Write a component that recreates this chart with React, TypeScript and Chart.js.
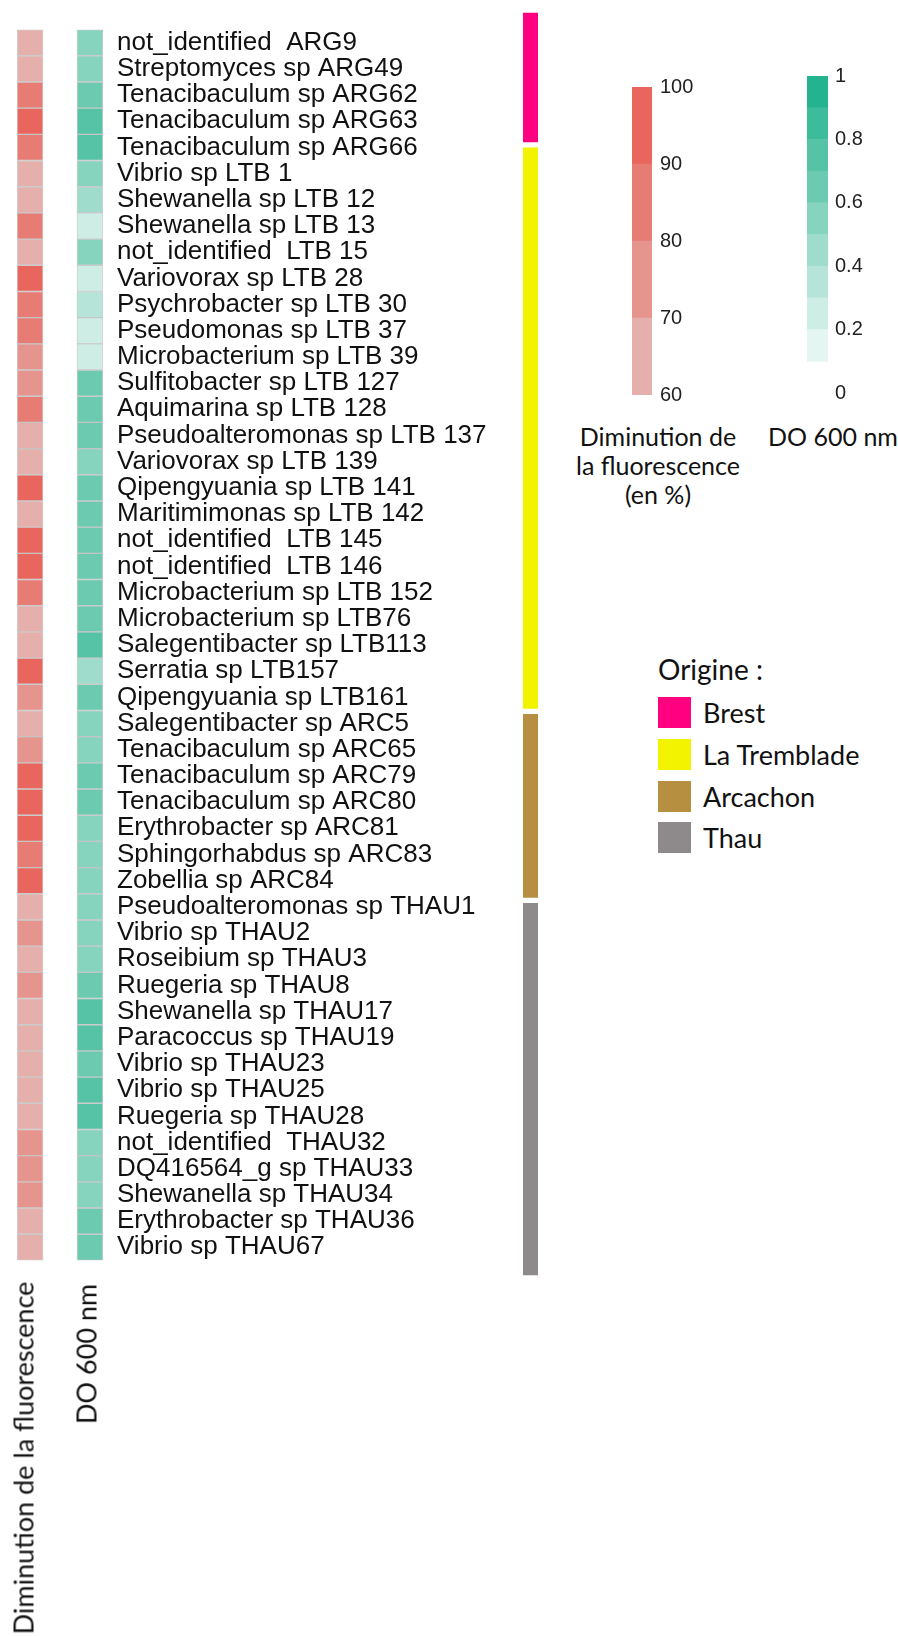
import React, { useEffect, useRef } from "react";
import { Chart, registerables } from "chart.js";

Chart.register(...registerables);

// ---------- data ----------
const species = [
  "not_identified  ARG9",
  "Streptomyces sp ARG49",
  "Tenacibaculum sp ARG62",
  "Tenacibaculum sp ARG63",
  "Tenacibaculum sp ARG66",
  "Vibrio sp LTB 1",
  "Shewanella sp LTB 12",
  "Shewanella sp LTB 13",
  "not_identified  LTB 15",
  "Variovorax sp LTB 28",
  "Psychrobacter sp LTB 30",
  "Pseudomonas sp LTB 37",
  "Microbacterium sp LTB 39",
  "Sulfitobacter sp LTB 127",
  "Aquimarina sp LTB 128",
  "Pseudoalteromonas sp LTB 137",
  "Variovorax sp LTB 139",
  "Qipengyuania sp LTB 141",
  "Maritimimonas sp LTB 142",
  "not_identified  LTB 145",
  "not_identified  LTB 146",
  "Microbacterium sp LTB 152",
  "Microbacterium sp LTB76",
  "Salegentibacter sp LTB113",
  "Serratia sp LTB157",
  "Qipengyuania sp LTB161",
  "Salegentibacter sp ARC5",
  "Tenacibaculum sp ARC65",
  "Tenacibaculum sp ARC79",
  "Tenacibaculum sp ARC80",
  "Erythrobacter sp ARC81",
  "Sphingorhabdus sp ARC83",
  "Zobellia sp ARC84",
  "Pseudoalteromonas sp THAU1",
  "Vibrio sp THAU2",
  "Roseibium sp THAU3",
  "Ruegeria sp THAU8",
  "Shewanella sp THAU17",
  "Paracoccus sp THAU19",
  "Vibrio sp THAU23",
  "Vibrio sp THAU25",
  "Ruegeria sp THAU28",
  "not_identified  THAU32",
  "DQ416564_g sp THAU33",
  "Shewanella sp THAU34",
  "Erythrobacter sp THAU36",
  "Vibrio sp THAU67",
];

const origins = [
  "Brest", "Brest", "Brest", "Brest", "Brest",
  "La Tremblade", "La Tremblade", "La Tremblade", "La Tremblade", "La Tremblade",
  "La Tremblade", "La Tremblade", "La Tremblade", "La Tremblade", "La Tremblade",
  "La Tremblade", "La Tremblade", "La Tremblade", "La Tremblade", "La Tremblade",
  "La Tremblade", "La Tremblade", "La Tremblade", "La Tremblade", "La Tremblade",
  "La Tremblade",
  "Arcachon", "Arcachon", "Arcachon", "Arcachon", "Arcachon", "Arcachon", "Arcachon",
  "Thau", "Thau", "Thau", "Thau", "Thau", "Thau", "Thau",
  "Thau", "Thau", "Thau", "Thau", "Thau", "Thau", "Thau",
];

// Diminution de la fluorescence (%)
const fluorescence = [
  65, 65, 85, 95, 85,
  65, 65, 85, 65, 95, 85, 85, 75, 75, 85, 65, 65, 95, 65, 95, 95, 85, 65, 65, 95, 75,
  65, 75, 95, 95, 95, 85, 95,
  65, 75, 65, 75, 65, 65, 65, 65, 65, 75, 75, 75, 65, 65,
];

// DO 600 nm
const od600 = [
  0.55, 0.55, 0.65, 0.75, 0.75,
  0.55, 0.45, 0.25, 0.55, 0.25, 0.35, 0.25, 0.25, 0.65, 0.65, 0.65, 0.55, 0.65, 0.65, 0.65, 0.65, 0.65, 0.65, 0.75, 0.45, 0.65,
  0.55, 0.55, 0.65, 0.65, 0.55, 0.55, 0.55,
  0.55, 0.55, 0.55, 0.65, 0.75, 0.75, 0.65, 0.75, 0.75, 0.55, 0.55, 0.55, 0.65, 0.65,
];

const originGroups = ["Brest", "La Tremblade", "Arcachon", "Thau"];
const originColors = ["#FE0080", "#F3F300", "#B68F40", "#8E8A8B"];

const fluoBreaks = [60, 70, 80, 90, 100];
const fluoColors = ["#E5B0AC", "#E6948E", "#E67C74", "#E8665D"];
const fluoTicks = [60, 70, 80, 90, 100];

const odBreaks = [0.1, 0.2, 0.3, 0.4, 0.5, 0.6, 0.7, 0.8, 0.9, 1.0];
const odColors = [
  "#E5F5F1", "#CEEDE5", "#B6E4D8", "#9FDCCB", "#86D3BE",
  "#6CCAB1", "#56C3A6", "#3CBC9B", "#23B38F",
];
const odTicks = [0, 0.2, 0.4, 0.6, 0.8, 1];

// ---------- helpers ----------
function binColor(v: number, breaks: number[], colors: string[]) {
  for (let i = 0; i < colors.length; i++) {
    if (v >= breaks[i] && v < breaks[i + 1]) return colors[i];
  }
  return v < breaks[0] ? colors[0] : colors[colors.length - 1];
}

const ARIAL = "'Liberation Sans', Arial, sans-serif";
const SOFT = "Lato, 'Open Sans', sans-serif";

function useChart(build: (c: HTMLCanvasElement) => Chart) {
  const ref = useRef<HTMLCanvasElement | null>(null);
  useEffect(() => {
    if (!ref.current) return;
    const ch = build(ref.current);
    return () => ch.destroy();
  }, []);
  return ref;
}

// ---------- charts ----------
function HeatmapChart() {
  const W = 523, H = 1290;
  const ref = useChart((c) =>
    new Chart(c, {
      type: "bar",
      data: {
        labels: species,
        datasets: [
          {
            label: "Diminution de la fluorescence",
            data: fluorescence.map(() => [0, 1]) as any,
            backgroundColor: fluorescence.map((v) => binColor(v, fluoBreaks, fluoColors)),
          },
          {
            label: "DO 600 nm",
            data: od600.map(() => [2.3, 3.3]) as any,
            backgroundColor: od600.map((v) => binColor(v, odBreaks, odColors)),
          },
        ],
      },
      options: {
        responsive: false,
        animation: false,
        indexAxis: "y",
        layout: { padding: { left: 17, top: 17, bottom: H - 1268, right: 0 } },
        plugins: { legend: { display: false }, tooltip: { enabled: false } },
        datasets: {
          bar: {
            grouped: false,
            barPercentage: 1,
            categoryPercentage: 1,
            borderSkipped: false,
            borderWidth: 1,
            borderColor: "rgba(170,170,170,0.55)",
          },
        } as any,
        scales: {
          x: { type: "linear", min: 0, max: 3.3, display: false },
          y: {
            type: "category",
            position: "right",
            grid: { display: false, drawTicks: false },
            border: { display: false },
            ticks: {
              autoSkip: false,
              padding: 14,
              color: "#111",
              font: { family: ARIAL, size: 26 },
            },
            afterFit: (s: any) => {
              s.width = 420;
            },
          },
        },
      },
    } as any)
  );
  return (
    <canvas
      ref={ref}
      width={W}
      height={H}
      style={{ position: "absolute", left: 0, top: 0 }}
    />
  );
}

function OriginBar() {
  const W = 15, H = 1290;
  const ref = useChart((c) =>
    new Chart(c, {
      type: "bar",
      data: {
        labels: ["Origine"],
        datasets: originGroups.map((g, i) => ({
          label: g,
          data: [origins.filter((o) => o === g).length],
          backgroundColor: originColors[i],
          borderColor: "#ffffff",
          borderWidth: { top: 3, bottom: 3, left: 0, right: 0 },
          borderSkipped: false,
          barPercentage: 1,
          categoryPercentage: 1,
        })),
      },
      options: {
        responsive: false,
        animation: false,
        layout: { padding: { left: 0, right: 0, top: 10, bottom: 12 } },
        plugins: { legend: { display: false }, tooltip: { enabled: false } },
        scales: {
          x: { stacked: true, display: false },
          y: { stacked: true, display: false, min: 0, max: species.length, reverse: true },
        },
      },
    } as any)
  );
  return (
    <canvas
      ref={ref}
      width={W}
      height={H}
      style={{ position: "absolute", left: 523, top: 0 }}
    />
  );
}

function ColorBar(props: {
  breaks: number[];
  colors: string[];
  ticks: number[];
  left: number;
  top: number;
  width: number;
  height: number;
  pad: { left: number; top: number; bottom: number };
  axisWidth: number;
  tickPad: number;
}) {
  const { breaks, colors, ticks, left, top, width, height, pad, axisWidth, tickPad } = props;
  const ref = useChart((c) =>
    new Chart(c, {
      type: "bar",
      data: {
        labels: ["scale"],
        datasets: colors.map((col, i) => ({
          data: [[breaks[i], breaks[i + 1]]] as any,
          backgroundColor: col,
          grouped: false,
          barPercentage: 1,
          categoryPercentage: 1,
          borderWidth: 0,
        })),
      },
      options: {
        responsive: false,
        animation: false,
        layout: { padding: { left: pad.left, top: pad.top, bottom: pad.bottom, right: 0 } },
        plugins: { legend: { display: false }, tooltip: { enabled: false } },
        scales: {
          x: { display: false },
          y: {
            type: "linear",
            position: "right",
            min: ticks[0],
            max: ticks[ticks.length - 1],
            grid: { display: false, drawTicks: false },
            border: { display: false },
            afterBuildTicks: (s: any) => {
              s.ticks = ticks.map((v) => ({ value: v }));
            },
            ticks: {
              padding: tickPad,
              color: "#222",
              font: { family: ARIAL, size: 20 },
              callback: (v: any) => String(Math.round(Number(v) * 10) / 10),
            },
            afterFit: (s: any) => {
              s.width = axisWidth;
            },
          },
        },
      },
    } as any)
  );
  return (
    <canvas
      ref={ref}
      width={width}
      height={height}
      style={{ position: "absolute", left, top }}
    />
  );
}

export default function App() {
  const textBase: React.CSSProperties = {
    position: "absolute",
    fontFamily: SOFT,
    color: "#111",
    whiteSpace: "nowrap",
    lineHeight: 1,
  };
  return (
    <div
      style={{
        position: "absolute",
        left: 0,
        top: 0,
        width: 898,
        height: 1636,
        background: "#fff",
        overflow: "hidden",
        fontFamily: SOFT,
      }}
    >
      <HeatmapChart />
      <OriginBar />
      <ColorBar
        breaks={fluoBreaks}
        colors={fluoColors}
        ticks={fluoTicks}
        left={620}
        top={60}
        width={100}
        height={360}
        pad={{ left: 12, top: 27, bottom: 25 }}
        axisWidth={68}
        tickPad={8}
      />
      <ColorBar
        breaks={odBreaks}
        colors={odColors}
        ticks={odTicks}
        left={795}
        top={50}
        width={103}
        height={370}
        pad={{ left: 12, top: 26, bottom: 27 }}
        axisWidth={70}
        tickPad={7}
      />

      {/* colour-scale titles */}
      <div
        style={{
          ...textBase,
          left: 658,
          top: 422,
          transform: "translateX(-50%)",
          textAlign: "center",
          fontSize: 25,
          lineHeight: "29px",
        }}
      >
        Diminution de
        <br />
        la fluorescence
        <br />
        (en %)
      </div>
      <div
        style={{
          ...textBase,
          left: 833,
          top: 422,
          transform: "translateX(-50%)",
          fontSize: 25,
          lineHeight: "29px",
        }}
      >
        DO 600 nm
      </div>

      {/* origin legend */}
      <div style={{ ...textBase, left: 658, top: 654, fontSize: 28, lineHeight: "30px" }}>
        Origine :
      </div>
      {originGroups.map((g, i) => (
        <React.Fragment key={g}>
          <div
            style={{
              position: "absolute",
              left: 658,
              top: 697 + i * 41.8,
              width: 33,
              height: 31,
              background: originColors[i],
            }}
          />
          <div
            style={{
              ...textBase,
              left: 703,
              top: 697 + i * 41.8,
              height: 31,
              lineHeight: "31px",
              fontSize: 27,
            }}
          >
            {g}
          </div>
        </React.Fragment>
      ))}

      {/* rotated column titles */}
      <div
        style={{
          ...textBase,
          left: 23,
          top: 1458,
          fontSize: 27,
          transform: "translate(-50%, -50%) rotate(-90deg)",
        }}
      >
        Diminution de la fluorescence
      </div>
      <div
        style={{
          ...textBase,
          left: 86,
          top: 1354,
          fontSize: 27,
          transform: "translate(-50%, -50%) rotate(-90deg)",
        }}
      >
        DO 600 nm
      </div>
    </div>
  );
}
